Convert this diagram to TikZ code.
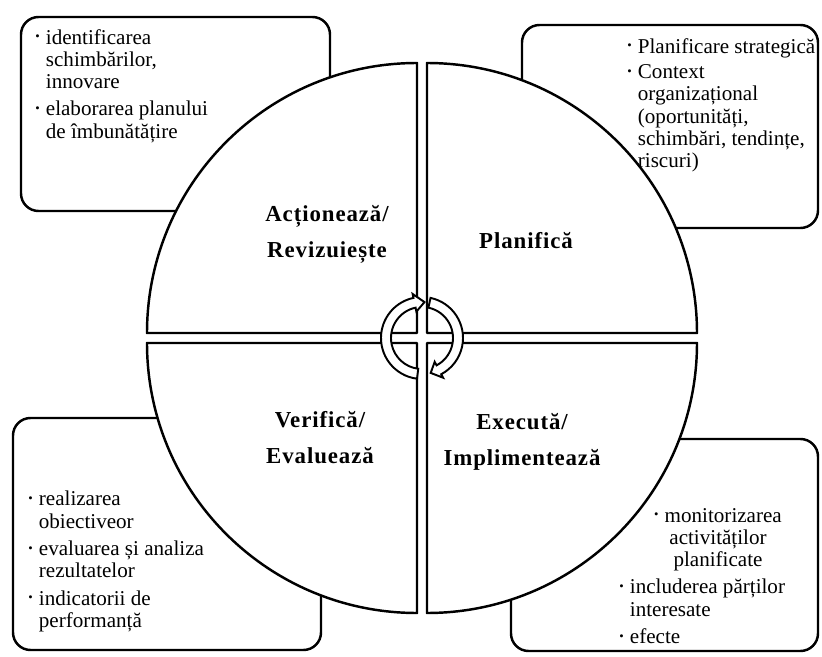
\documentclass[tikz,border=0pt]{standalone}
\usepackage{fontspec}
\usepackage{graphicx}
\setmainfont{Liberation Serif}
\newfontfamily\phasefam[LetterSpace=4]{Liberation Serif}
\newcommand{\bul}{\makebox[6pt][l]{\raisebox{0.35ex}{\scalebox{0.6}{\textbullet}}}}
\newcommand{\ind}{\hspace*{6pt}}

\begin{document}
\begin{tikzpicture}[x=1cm,y=1cm,
  infobox/.style={draw, line width=1.4pt, rounded corners=0.35cm},
  quarter/.style={draw, fill=white, line width=1.4pt, line join=round},
  turn/.style={draw, fill=white, line width=1.1pt, line join=miter},
  phase/.style={font=\phasefam\bfseries\fontsize{13}{20.5}\selectfont, align=center},
  note/.style={font=\fontsize{12}{12.6}\selectfont, align=left, inner sep=0pt, anchor=north west}]
\useasboundingbox (0,0) rectangle (16.44,13.12);

\draw[infobox] (0.42,8.9) rectangle (6.6,12.78);
\draw[infobox] (10.44,8.56) rectangle (16.36,12.62);
\draw[infobox] (0.26,0.12) rectangle (6.42,4.76);
\draw[infobox] (10.22,0.1) rectangle (16.36,4.34);

\draw[quarter] (8.34,6.46) -- (2.94,6.46) arc[start angle=180, end angle=90, radius=5.4] -- cycle;
\draw[quarter] (8.54,6.46) -- (8.54,11.86) arc[start angle=90, end angle=0, radius=5.4] -- cycle;
\draw[quarter] (8.34,6.26) -- (2.94,6.26) arc[start angle=180, end angle=270, radius=5.4] -- cycle;
\draw[quarter] (8.54,6.26) -- (13.94,6.26) arc[start angle=0, end angle=-90, radius=5.4] -- cycle;

\begin{scope}[shift={(8.44,6.36)}]
\draw[turn] (263:0.82) arc[start angle=263, end angle=102, radius=0.82]
  -- (102:0.9) -- (86:0.72) -- (102:0.54) -- (102:0.62)
  arc[start angle=102, end angle=263, radius=0.62] -- cycle;
\draw[turn] (78:0.82) arc[start angle=78, end angle=-62, radius=0.82]
  -- (-62:0.9) -- (-76:0.72) -- (-62:0.54) -- (-62:0.62)
  arc[start angle=-62, end angle=78, radius=0.62] -- cycle;
\end{scope}

\node[phase] (act) at (6.54,8.44) {Acționează/\\Revizuiește};
\node[phase] (plan) at (10.52,8.30) {Planifică};
\node[phase] (check) at (6.40,4.36) {Verifică/\\Evaluează};
\node[phase] (do) at (10.44,4.28) {Execută/\\Implimentează};

\node[note] (actnote) at (0.7,12.54)
{\bul identificarea\\\ind schimbărilor,\\\ind innovare\\[3pt]
\bul elaborarea planului\\\ind de îmbunătățire};

\node[note] (plannote) at (12.54,12.36)
{\bul Planificare strategică\\[2pt]
\bul Context\\\ind organizațional\\\ind (oportunități,\\\ind schimbări, tendințe,\\\ind riscuri)};

\node[note] (checknote) at (0.56,3.3)
{\bul realizarea\\\ind obiectiveor\\[3pt]
\bul evaluarea și analiza\\\ind rezultatelor\\[3pt]
\bul indicatorii de\\\ind performanță};

\node[note, anchor=north, align=center] (donote) at (14.36,2.96)
{\bul monitorizarea\\activităților\\planificate};
\node[note] (donote2) at (12.38,1.54)
{\bul includerea părților\\\ind interesate\\[3pt]
\bul efecte};
\end{tikzpicture}
\end{document}
